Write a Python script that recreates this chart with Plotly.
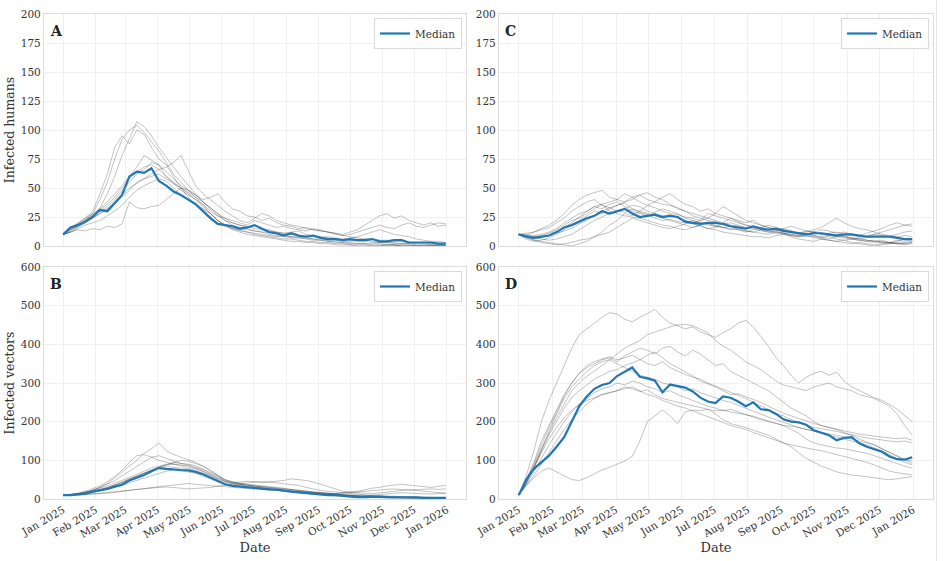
import pandas as pd
import plotly.graph_objects as go

# ---------------- data (weekly samples from 2025-01-01) ----------------
start_date = "2025-01-01"
n_weeks = 53

A_median = [10,16,18,21,25,31,30,37,44,60, 64,63,67,56,52,47,44,40,36,30,
            24,19,18,17,15,16,18,15,12,11, 9,11,9,8,9,7,6,6,5,6,
            5,5,6,4,4,5,5,3,3,3, 3,2,2]
A_runs = [
    [10,14,17,22,28,40,55,75,92,100, 104,98,90,82,72,62,55,48,42,35, 28,22,18,15,13,12,10,9,8,7, 6,6,5,4,4,3,3,2,2,1, 1,1,0,0,1,1,0,0,0,0, 0,0,0],
    [10,13,18,21,26,33,45,60,78,92, 107,103,95,85,76,68,60,52,45,38, 33,28,22,18,16,14,13,12,10,9, 8,7,7,6,5,5,4,3,3,2, 2,2,1,1,1,1,0,0,0,0, 0,0,0],
    [10,15,19,24,30,45,62,85,95,88, 100,96,85,75,70,60,50,42,36,32, 25,20,17,15,14,12,11,10,9,8, 9,8,7,7,6,5,4,4,3,3, 2,2,2,2,1,1,1,1,0,0, 0,0,0],
    [10,16,20,24,28,32,38,45,52,60, 68,78,74,70,64,58,52,48,44,38, 32,26,22,20,18,16,18,15,14,12, 11,10,9,9,8,7,7,6,5,5, 4,4,3,3,3,2,2,2,1,1, 1,1,1],
    [10,15,18,22,26,30,34,40,48,55, 62,66,72,70,60,55,50,45,40,34, 28,22,18,16,14,15,13,12,12,10, 9,8,8,7,6,6,5,5,4,4, 5,6,4,3,3,3,2,2,2,2, 1,1,1],
    [10,12,16,20,24,28,32,36,42,48, 55,58,62,66,68,72,78,65,52,45, 40,35,30,26,22,20,24,28,26,22, 20,18,17,15,14,13,12,10,9,8, 7,6,6,5,5,4,4,3,3,3, 2,2,2],
    [10,12,14,13,15,14,17,16,19,38, 33,32,34,35,40,45,50,48,44,40, 42,45,38,32,30,26,25,22,24,20, 18,17,15,16,14,13,12,11,10,12, 14,18,22,26,28,24,26,22,20,18, 20,17,18],
    [10,14,17,20,24,28,32,38,44,50, 54,58,60,62,58,54,48,44,40,36, 30,26,24,22,20,18,22,20,18,16, 17,15,14,13,15,14,12,11,9,10, 12,14,16,18,16,15,18,20,17,16, 18,20,19],
    [10,12,15,18,20,22,26,30,35,42, 48,52,55,58,56,50,44,40,36,32, 28,22,18,14,12,10,9,8,7,6, 5,4,4,3,3,2,2,1,1,1, 0,0,0,0,0,0,0,0,0,0, 0,0,0],
    [10,16,19,23,27,31,36,42,50,58, 64,68,70,66,60,54,50,46,42,38, 33,28,24,20,18,17,15,14,13,12, 11,12,13,10,9,8,8,7,6,7, 8,10,12,14,12,10,9,8,6,5, 4,4,3],
]

B_median = [10,10,12,14,19,22,26,32,37,48, 55,62,72,80,78,76,75,74,70,64,
            56,47,38,34,32,30,29,27,25,24, 21,19,17,15,13,11,10,10,8,6,
            5,5,6,6,5,5,4,4,4,3, 3,3,3]
B_runs = [
    [10,11,13,16,22,30,40,55,70,85, 100,118,130,145,125,115,108,100,95,85, 72,60,48,42,38,36,34,32,30,28, 26,24,22,20,18,16,14,12,10,8, 7,6,5,5,4,4,3,3,2,2, 2,2,2],
    [10,12,15,20,26,34,45,58,75,95, 112,115,108,100,95,90,88,86,80,72, 62,52,44,40,38,35,33,30,28,26, 24,22,20,18,16,15,13,12,10,9, 8,7,6,6,5,5,4,4,3,3, 3,2,2],
    [10,10,12,14,17,22,28,35,42,50, 58,66,75,82,88,95,100,98,92,85, 75,62,50,44,40,38,36,34,33,30, 28,25,22,20,18,16,14,13,12,11, 10,9,8,8,7,6,6,5,5,4, 4,4,3],
    [10,11,13,15,19,24,30,36,44,52, 60,68,75,82,88,90,86,82,78,72, 64,55,46,42,44,46,45,42,44,46, 48,52,50,48,44,38,30,24,20,18, 16,15,14,16,18,20,22,24,22,20, 18,16,15],
    [10,9,10,11,12,13,15,17,20,22, 25,27,30,32,34,36,38,40,38,36, 34,33,32,30,28,27,26,25,24,22, 20,18,16,14,12,10,9,8,6,5, 5,4,4,3,3,2,2,2,1,1, 1,1,1],
    [10,10,11,12,13,15,17,19,21,23, 25,27,29,30,31,30,28,26,27,28, 30,33,36,38,40,42,44,45,44,42, 40,38,35,30,25,22,20,18,16,14, 12,10,9,8,8,7,6,6,5,5, 4,4,4],
    [10,11,13,16,20,25,30,36,42,52, 60,68,74,80,84,82,80,78,74,68, 60,50,40,36,34,32,30,28,26,24, 22,20,18,16,14,13,12,14,16,18, 20,24,28,30,34,36,38,36,34,32, 30,33,35],
    [10,12,14,18,22,28,34,40,48,56, 64,72,80,85,90,94,92,90,86,78, 70,60,50,44,40,36,33,30,28,25, 22,20,18,16,14,12,11,10,9,8, 7,7,6,6,5,5,4,4,4,3, 3,3,3],
    [10,10,12,14,17,21,25,30,35,42, 48,55,62,68,72,75,73,70,66,60, 52,44,38,34,32,30,28,26,24,22, 20,19,18,17,16,16,15,14,15,16, 18,20,22,24,25,26,24,23,24,25, 26,25,26],
    [10,11,14,18,23,30,38,48,60,72, 85,98,108,112,105,98,92,88,82,76, 66,56,46,40,36,33,30,28,26,24, 22,20,18,16,15,14,12,11,10,9, 8,8,10,12,14,15,16,15,14,14, 13,14,15],
]

C_median = [10,8,7,8,9,12,16,18,21,24, 26,30,28,30,32,28,25,26,27,25,
            26,25,21,20,19,20,20,19,17,16, 15,17,15,14,15,13,12,11,10,11,
            11,10,9,10,10,9,8,8,8,8, 7,6,6]
C_runs = [
    [10,9,12,15,18,22,28,35,40,44, 46,48,42,40,38,42,44,40,38,36, 35,33,30,28,26,24,22,20,18,17, 15,16,14,12,13,11,10,9,10,8, 7,6,8,7,6,5,4,5,3,2, 3,2,3],
    [10,7,5,4,3,2,1,0,2,4, 8,12,18,22,28,26,30,35,38,42, 45,40,36,34,30,32,28,26,24,22, 20,22,18,16,15,14,12,10,11,9, 8,9,10,8,7,6,5,4,5,3, 2,1,2],
    [10,8,6,7,9,12,16,20,25,30, 34,36,38,40,45,42,38,35,33,30, 28,27,25,24,22,28,26,24,22,20, 18,17,16,15,14,12,13,11,10,12, 10,9,8,9,7,6,8,10,12,14, 16,18,17],
    [10,6,4,5,7,10,14,18,22,26, 30,28,32,35,38,40,44,46,42,40, 36,32,30,26,24,22,21,19,20,18, 16,15,13,12,11,10,9,8,10,12, 11,10,9,8,6,7,5,4,3,3, 2,3,4],
    [10,9,7,6,5,6,8,10,14,18, 22,25,28,30,32,35,34,30,28,26, 27,25,22,20,22,24,28,34,30,26, 22,20,18,16,14,15,13,11,12,14, 16,20,24,20,17,15,14,12,10,9, 8,9,8],
    [10,10,8,9,11,14,18,22,24,28, 32,36,30,28,26,25,24,22,20,18, 17,15,14,16,18,15,14,12,11,10, 9,8,8,7,9,10,8,6,5,4, 6,5,4,3,2,3,2,1,2,3, 5,4,6],
    [10,8,5,3,2,1,2,3,5,6, 8,10,12,16,20,24,22,20,18,16, 15,17,19,22,20,18,17,16,14,15, 13,12,11,10,12,11,9,8,9,7, 6,5,4,5,3,2,1,0,1,2, 4,6,5],
    [10,11,12,14,16,20,24,30,34,38, 40,35,33,30,29,32,30,28,26,24, 22,20,18,16,18,20,17,16,15,14, 12,14,16,18,16,14,12,11,13,12, 10,11,12,10,9,8,9,10,9,8, 10,12,13],
    [10,8,9,10,12,15,20,24,28,30, 34,32,36,38,34,30,28,26,29,32, 30,28,24,22,20,19,18,16,17,14, 13,12,14,13,12,11,10,9,8,9, 7,8,6,5,6,5,4,3,4,3, 2,2,3],
    [10,9,8,8,9,11,13,15,19,22, 26,30,33,35,37,32,29,27,24,22, 23,21,20,19,17,15,16,20,24,21, 18,16,15,14,13,15,17,15,13,12, 14,13,11,12,10,9,11,13,15,18, 20,18,19],
]

D_median = [10,50,78,95,112,135,160,200,240,265, 285,295,300,318,328,340,316,312,306,276,
            296,292,288,278,262,252,248,265,262,252, 240,250,232,230,220,206,200,198,192,178,
            172,165,152,158,160,144,135,128,122,110, 103,102,108]
D_runs = [
    [10,60,125,200,255,300,345,390,425,440, 455,470,482,478,465,458,470,480,490,470, 455,448,440,445,432,425,418,430,440,455, 462,445,420,395,365,345,320,300,315,325, 330,320,328,305,290,280,270,262,255,245, 232,215,200],
    [10,45,85,130,170,210,245,280,300,318, 330,345,360,375,390,400,410,425,432,440, 445,450,452,448,440,430,410,395,385,370, 355,345,335,320,305,295,290,285,280,290, 295,300,290,285,280,270,265,260,250,240, 220,190,165],
    [10,50,95,150,190,230,270,300,325,340, 350,360,365,355,370,380,390,385,375,390, 395,380,370,385,375,360,345,350,330,320, 310,300,290,280,265,250,235,225,215,200, 190,185,180,176,172,168,165,162,160,158, 156,158,152],
    [10,40,80,130,175,220,260,290,310,330, 345,355,360,350,340,330,320,315,310,300, 295,290,280,285,275,268,260,255,250,242, 235,228,220,212,205,198,190,185,180,176, 170,165,160,155,150,145,140,132,125,115, 105,95,88],
    [10,38,70,105,140,170,200,225,245,260, 275,285,290,300,295,305,300,290,285,275, 280,270,262,255,248,240,235,228,232,225, 218,210,205,200,195,190,188,185,180,175, 172,168,165,160,155,150,145,140,130,120, 110,100,92],
    [10,35,60,90,120,150,180,205,225,245, 260,270,275,280,285,290,280,270,265,255, 248,240,235,228,220,212,205,198,190,185, 180,172,165,158,150,145,140,135,132,128, 125,120,115,110,105,100,95,88,80,72, 68,64,62],
    [10,35,55,72,80,70,60,50,48,55, 65,75,82,90,98,110,150,200,215,230, 215,195,225,230,228,232,220,205,195,190, 185,178,172,165,155,145,135,120,105,95, 85,78,70,66,62,60,58,55,52,50, 52,55,58],
    [10,42,80,120,155,185,210,230,245,255, 262,270,275,280,290,285,278,282,270,260, 255,250,245,240,236,232,228,230,225,222, 218,214,208,200,195,190,180,170,155,145, 140,135,132,130,126,122,118,112,105,98, 92,85,80],
    [10,48,90,140,185,225,265,300,325,345, 355,362,368,360,365,372,360,350,345,355, 340,330,322,315,310,300,292,285,275,268, 260,250,240,230,222,215,205,198,190,185, 182,178,175,170,165,162,158,155,152,150, 148,150,145],
    [10,44,82,125,165,200,235,262,280,295, 310,320,330,335,345,352,360,372,380,365, 350,340,330,318,305,298,290,280,270,272, 265,258,250,240,230,222,215,208,200,195, 190,185,180,172,165,155,148,140,130,120, 110,102,98],
]

panel_letters = ["A", "B", "C", "D"]
y_titles = {"A": "Infected humans", "B": "Infected vectors", "C": "", "D": ""}
y_max = {"A": 200, "B": 600, "C": 200, "D": 600}
y_step = {"A": 25, "B": 100, "C": 25, "D": 100}

# ---------------- figure ----------------
dates = pd.date_range(start_date, periods=n_weeks, freq="7D")
W, H = 943, 561
FONT = "DejaVu Serif, serif"
GRAY = "rgba(0,0,0,0.27)"
BLUE = "#1f77b4"

# pixel boxes (left, right, top, bottom)
boxes = {"A": (44, 466, 14, 246), "C": (499, 933, 14, 246),
         "B": (44, 466, 267, 499), "D": (499, 933, 267, 499)}
data = {"A": (A_median, A_runs), "B": (B_median, B_runs),
        "C": (C_median, C_runs), "D": (D_median, D_runs)}

fig = go.Figure()
layout = dict(width=W, height=H, margin=dict(l=0, r=0, t=0, b=0, autoexpand=False),
              paper_bgcolor="white", plot_bgcolor="white",
              font=dict(family=FONT, color="#333333", size=10), showlegend=True)
annotations = []
xr = [pd.Timestamp("2024-12-13 18:00"), pd.Timestamp("2026-01-19 06:00")]
tickvals = pd.date_range("2025-01-01", "2026-01-01", freq="MS")
ticktext = [d.strftime("%b %Y") for d in tickvals]

for i, p in enumerate(["A", "B", "C", "D"]):
    n = i + 1
    xa = "x" if n == 1 else f"x{n}"
    ya = "y" if n == 1 else f"y{n}"
    lg = "legend" if n == 1 else f"legend{n}"
    l, r, t, b = boxes[p]
    med, runs = data[p]
    for run in runs:
        fig.add_trace(go.Scatter(x=dates, y=run, mode="lines", xaxis=xa, yaxis=ya,
                                 line=dict(color=GRAY, width=0.9), showlegend=False,
                                 hoverinfo="skip"))
    fig.add_trace(go.Scatter(x=dates, y=med, mode="lines", xaxis=xa, yaxis=ya,
                             line=dict(color=BLUE, width=2.2), name="Median",
                             legend=lg, showlegend=True))
    bottom = p in ("B", "D")
    layout[f"xaxis{'' if n == 1 else n}"] = dict(
        domain=[l / W, r / W], anchor=ya, range=xr, type="date", automargin=False,
        tickvals=list(tickvals), ticktext=ticktext, tickangle=-30,
        showticklabels=bottom, tickfont=dict(size=10.5, color="#333333"),
        showgrid=True, gridcolor="#f0f0f0", gridwidth=1,
        showline=True, linecolor="#dcdcdc", linewidth=1.2, mirror=True,
        zeroline=False, ticks="",
        title=dict(text="Date" if bottom else "", font=dict(size=13, color="#333333"), standoff=2),
    )
    layout[f"yaxis{'' if n == 1 else n}"] = dict(
        domain=[1 - b / H, 1 - t / H], anchor=xa, range=[0, y_max[p]], automargin=False,
        tickmode="linear", tick0=0, dtick=y_step[p],
        tickfont=dict(size=10.5, color="#333333"),
        showgrid=True, gridcolor="#f0f0f0", gridwidth=1,
        showline=True, linecolor="#dcdcdc", linewidth=1.2, mirror=True,
        zeroline=False, ticks="",
        title=dict(text=y_titles[p], font=dict(size=12.5, color="#333333"), standoff=3),
    )
    layout[lg] = dict(x=(r - 4) / W, y=1 - (t + 4) / H, xanchor="right", yanchor="top",
                      xref="paper", yref="paper",
                      bgcolor="white", bordercolor="#d9d9d9", borderwidth=1,
                      font=dict(family=FONT, size=10.5, color="#333333"),
                      itemwidth=30, tracegroupgap=0)
    annotations.append(dict(text=f"<b>{p}</b>", x=(l + 4) / W, y=1 - (t + 17) / H,
                            xref="paper", yref="paper", xanchor="left", yanchor="middle",
                            showarrow=False, font=dict(family=FONT, size=14, color="#222222")))

layout["annotations"] = annotations
layout["shapes"] = [dict(type="line", xref="paper", yref="paper", x0=936.5 / W, x1=936.5 / W,
                         y0=0, y1=1, line=dict(color="#e6e6e6", width=1))]
fig.update_layout(**layout)
fig.write_html("out.html")
